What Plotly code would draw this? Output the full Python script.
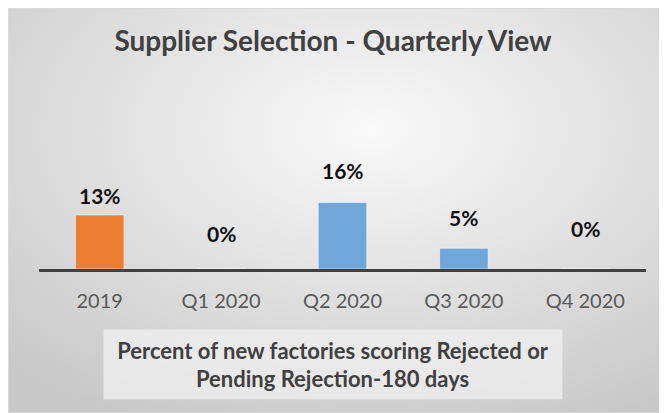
import base64
import plotly.graph_objects as go

# ---- data ----
categories = ["2019", "Q1 2020", "Q2 2020", "Q3 2020", "Q4 2020"]
values = [0.13, 0.0, 0.16, 0.05, 0.0]
value_labels = ["13%", "0%", "16%", "5%", "0%"]
bar_colors = ["#ED7D31", "#70A6DA", "#70A6DA", "#70A6DA", "#70A6DA"]
title_text = "Supplier Selection - Quarterly View"
axis_title_lines = ["Percent of new factories scoring Rejected or",
                    "Pending Rejection-180 days"]

# ---- geometry (screen pixels; page body adds an 8px offset) ----
W, H = 667, 413
OX, OY = 8, 8
L, R = 39 - OX, 646 - OX       # plot area left/right (figure coords)
T, B = 100 - OY, 269 - OY      # plot area top/bottom (baseline)
PX_PER_UNIT = 415.0            # pixels per 1.0 (100%)
pw, ph = R - L, B - T

label_shift = [19.5, 36, 32, 31, 41]

FONT = "Lato"
xpos = list(range(len(categories)))

fig = go.Figure()
fig.add_trace(go.Bar(
    x=xpos, y=values,
    marker=dict(color=bar_colors, line=dict(color="rgba(255,255,255,0.55)", width=1)),
    width=0.4,
    hoverinfo="skip",
))

# data labels
for xi, v, lab, s in zip(xpos, values, value_labels, label_shift):
    fig.add_annotation(x=xi, y=v, xref="x", yref="y", text=lab, showarrow=False,
                       yanchor="middle", yshift=s,
                       font=dict(family=FONT, size=21, color="#111111", weight="bold"))

# axis title box (screen coords)
bx0, bx1, by0, by1 = 105 - OX, 561 - OX, 331 - OY, 398 - OY
fig.add_annotation(
    xref="paper", yref="paper",
    x=((bx0 + bx1) / 2 - L) / pw, y=(B - (by0 + by1) / 2) / ph,
    xanchor="center", yanchor="middle",
    text="<br>".join(axis_title_lines), showarrow=False,
    width=bx1 - bx0, height=by1 - by0, align="center", valign="middle",
    bgcolor="rgba(240,240,240,0.75)",
    font=dict(family=FONT, size=22, color="#404040", weight="bold"),
)

# gradient chart-area background (decoration)
gx0, gy0 = 0, 0
gw, gh = W - OX, H - OY
svg = (f'<svg xmlns="http://www.w3.org/2000/svg" width="{gw}" height="{gh}" '
       f'viewBox="0 0 {gw} {gh}" preserveAspectRatio="none">'
       '<defs><radialGradient id="g" cx="0.55" cy="0.3" r="0.8">'
       '<stop offset="0" stop-color="#f9f9f9"/><stop offset="1" stop-color="#c8c8c8"/>'
       '</radialGradient></defs>'
       f'<rect x="0.5" y="0.5" width="{gw-1}" height="{gh-1}" fill="url(#g)" stroke="#d9d9d9" stroke-width="1"/></svg>')
src = "data:image/svg+xml;base64," + base64.b64encode(svg.encode()).decode()
fig.add_layout_image(dict(
    source=src, xref="paper", yref="paper",
    x=(gx0 - L) / pw, y=(B - gy0) / ph,
    sizex=gw / pw, sizey=gh / ph,
    xanchor="left", yanchor="top", sizing="stretch", layer="below",
))

fig.update_layout(
    width=W, height=H,
    margin=dict(l=L, r=W - R, t=T, b=H - B, pad=0, autoexpand=False),
    paper_bgcolor="white", plot_bgcolor="rgba(0,0,0,0)",
    showlegend=False,
    title=dict(text=title_text, x=(333 - OX) / W, xref="container", xanchor="center",
               y=1 - (41.5 - OY) / H, yref="container", yanchor="middle",
               font=dict(family=FONT, size=28, color="#404040", weight="bold")),
    xaxis=dict(showline=True, linecolor="#404040", linewidth=3,
               range=[-0.5, len(categories) - 0.5], automargin=False,
               tickmode="array", tickvals=xpos, ticktext=categories,
               ticks="outside", ticklen=12, tickcolor="rgba(0,0,0,0)",
               tickfont=dict(family=FONT, size=20, color="#595959"),
               showgrid=False, zeroline=False, fixedrange=True),
    yaxis=dict(visible=False, range=[0, ph / PX_PER_UNIT], showgrid=False,
               automargin=False, zeroline=False, fixedrange=True),
)

fig.write_html("out.html")
